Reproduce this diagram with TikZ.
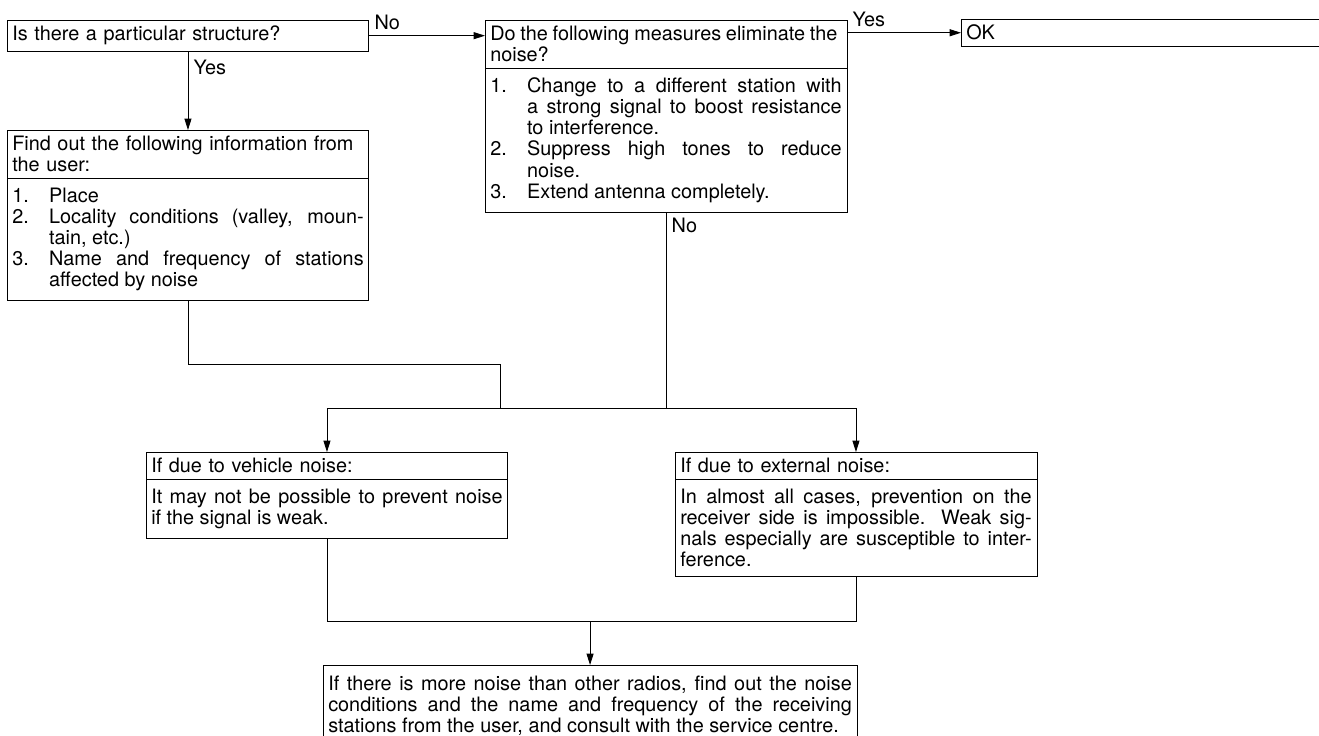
\documentclass[tikz,border=0pt]{standalone}
\usepackage{fontspec}
\setmainfont{TeX Gyre Heros}
\usetikzlibrary{arrows.meta, positioning}
\setlength{\parindent}{0pt}
\newcommand{\boxfont}{\fontsize{11.3}{12}\selectfont}
\newcommand{\numitem}[2]{\noindent\hangindent=21pt\hangafter=1\makebox[21pt][l]{#1}#2\par}
\tikzstyle{head}  = [rectangle, draw=black, line width=0.5pt, anchor=north west, text width=200pt,
                     inner xsep=3pt, inner ysep=3.5pt, outer sep=0pt, align=left, font=\boxfont]
\tikzstyle{body}  = [head, inner ysep=5.5pt, align=justify]
\tikzstyle{wide}  = [body, text width=298pt, inner ysep=6pt]
\tikzstyle{line}  = [line width=0.5pt]
\tikzstyle{arrow} = [-{Triangle[length=6.5pt,width=4pt]}, line width=0.5pt]
\tikzstyle{lbl}   = [font=\boxfont, inner sep=3pt]

\begin{document}
\begin{tikzpicture}[x=0.02cm, y=-0.02cm]
  \useasboundingbox (0,0) rectangle (1319,735);

  \node (struct)   [head] at (7,20)    {Is there a particular structure?};
  \node (measure)  [head] at (485,20)  {{\spaceskip=0.24em plus 0.1em minus 0.04em Do the following measures eliminate the}\\noise?};
  \node (steps)    [body, below=0pt of measure] {%
    \numitem{1.}{Change to a different station with\linebreak a strong signal to boost resistance\linebreak to interference.}%
    \numitem{2.}{Suppress high tones to reduce\linebreak noise.}%
    \numitem{3.}{Extend antenna completely.}};
  \node (ok)       [head, text width=230pt] at (961,19) {OK};

  \node (ask)      [head] at (7,130)   {Find out the following information from\\the user:};
  \node (info)     [body, below=0pt of ask] {%
    \numitem{1.}{Place}%
    \numitem{2.}{Locality conditions (valley, moun-\linebreak tain, etc.)}%
    \numitem{3.}{Name and frequency of stations\linebreak affected by noise}};

  \node (vehicle)  [head] at (146,452) {If due to vehicle noise:};
  \node (vehtxt)   [body, below=0pt of vehicle] {It may not be possible to prevent noise\linebreak if the signal is weak.};
  \node (external) [head] at (675,452) {If due to external noise:};
  \node (exttxt)   [body, below=0pt of external] {In almost all cases, prevention on the\linebreak receiver side is impossible. Weak sig-\linebreak nals especially are susceptible to inter-\linebreak ference.};

  \node (consult)  [wide] at (323,665) {\parfillskip=0pt If there is more noise than other radios, find out the noise\linebreak conditions and the name and frequency of the receiving\linebreak stations from the user, and consult with the service centre.};

  \coordinate (bend) at (500,364);
  \coordinate (fork) at (500,408);
  \coordinate (join) at (591,621);

  \draw [arrow] (struct) -- node[lbl, above right, pos=0] {No} (struct -| measure.west);
  \draw [arrow] (measure.east |- ok) -- node[lbl, above right, pos=0] {Yes} (ok);
  \draw [arrow] (struct) -- node[lbl, right, pos=0.2] {Yes} (ask);

  \draw [line] (info) |- (bend) -- (fork);
  \draw [line] (steps) -- node[lbl, below right, pos=0] {No} (steps |- fork);
  \draw [line] (vehicle |- fork) -- (external |- fork);
  \draw [arrow] (vehicle |- fork) -- (vehicle);
  \draw [arrow] (external |- fork) -- (external);

  \draw [line] (vehtxt) -- (vehtxt |- join) -- (exttxt |- join) -- (exttxt);
  \draw [arrow] (consult.north |- join) -- (consult);
\end{tikzpicture}
\end{document}
